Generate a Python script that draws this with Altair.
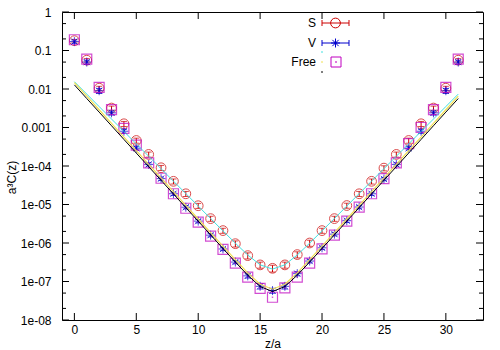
import altair as alt
import pandas as pd

# ---------------- data ----------------
z = list(range(32))

S_vals = [0.18, 0.056, 0.0105, 0.0032, 1.25e-3, 4.6e-4, 2.0e-4, 9.0e-5, 4.0e-5, 1.9e-5,
          9.3e-6, 4.3e-6, 2.1e-6, 9.6e-7, 4.7e-7, 2.7e-7, 2.2e-7, 2.7e-7, 5.0e-7, 1.0e-6,
          2.1e-6, 4.3e-6, 9.4e-6, 1.9e-5, 4.0e-5, 8.8e-5, 2.0e-4, 4.6e-4, 1.25e-3, 3.2e-3,
          0.0105, 0.056]
S_relerr = [0.08, 0.1, 0.12, 0.12, 0.15, 0.15, 0.15, 0.15, 0.15, 0.15,
            0.15, 0.15, 0.15, 0.18, 0.18, 0.18, 0.2, 0.18, 0.18, 0.18,
            0.15, 0.15, 0.15, 0.15, 0.15, 0.15, 0.15, 0.15, 0.15, 0.12,
            0.12, 0.1]

V_vals = [0.17, 0.05, 0.009, 0.0024, 8.0e-4, 2.9e-4, 1.1e-4, 4.7e-5, 1.9e-5, 8.5e-6,
          3.7e-6, 1.6e-6, 7.0e-7, 3.2e-7, 1.4e-7, 7.5e-8, 5.8e-8, 7.5e-8, 1.6e-7, 3.4e-7,
          7.5e-7, 1.7e-6, 3.8e-6, 8.6e-6, 1.9e-5, 4.6e-5, 1.1e-4, 2.9e-4, 8.0e-4, 2.4e-3,
          0.009, 0.05]
V_relerr = [0.1, 0.12, 0.15, 0.12, 0.12, 0.1, 0.1, 0.1, 0.1, 0.1,
            0.1, 0.1, 0.1, 0.1, 0.12, 0.15, 0.15, 0.15, 0.12, 0.1,
            0.1, 0.1, 0.1, 0.1, 0.1, 0.1, 0.1, 0.1, 0.12, 0.12,
            0.15, 0.12]

Free_vals = [0.19, 0.06, 0.011, 0.0029, 9.5e-4, 3.5e-4, 1.2e-4, 4.8e-5, 1.9e-5, 8.0e-6,
             3.5e-6, 1.5e-6, 6.8e-7, 3.0e-7, 1.3e-7, 6.6e-8, 3.9e-8, 6.8e-8, 1.3e-7, 3.0e-7,
             7.0e-7, 1.6e-6, 3.7e-6, 8.5e-6, 1.9e-5, 4.7e-5, 1.2e-4, 3.8e-4, 1.0e-3, 2.9e-3,
             0.011, 0.06]

fit_cyan = [0.0155, 7.37e-3, 3.5e-3, 1.66e-3, 7.9e-4, 3.76e-4, 1.79e-4, 8.5e-5, 4.04e-5, 1.92e-5,
            9.1e-6, 4.33e-6, 2.06e-6, 9.9e-7, 4.89e-7, 2.71e-7, 2.1e-7, 2.71e-7, 4.89e-7, 9.9e-7,
            2.06e-6, 4.33e-6, 9.1e-6, 1.92e-5, 4.04e-5, 8.5e-5, 1.79e-4, 3.76e-4, 7.9e-4, 1.66e-3,
            3.5e-3, 7.37e-3]
fit_yellow = [0.0147, 6.5e-3, 2.89e-3, 1.28e-3, 5.6e-4, 2.5e-4, 1.1e-4, 4.9e-5, 2.16e-5, 9.5e-6,
              4.2e-6, 1.87e-6, 8.3e-7, 3.7e-7, 1.68e-7, 8.5e-8, 6.3e-8, 8.5e-8, 1.68e-7, 3.7e-7,
              8.3e-7, 1.87e-6, 4.2e-6, 9.5e-6, 2.16e-5, 4.9e-5, 1.1e-4, 2.5e-4, 5.6e-4, 1.28e-3,
              2.89e-3, 6.5e-3]
fit_black = [0.0128, 5.66e-3, 2.51e-3, 1.11e-3, 4.9e-4, 2.17e-4, 9.6e-5, 4.25e-5, 1.88e-5, 8.3e-6,
             3.68e-6, 1.63e-6, 7.2e-7, 3.2e-7, 1.46e-7, 7.4e-8, 5.5e-8, 7.4e-8, 1.46e-7, 3.2e-7,
             7.2e-7, 1.63e-6, 3.68e-6, 8.3e-6, 1.88e-5, 4.25e-5, 9.6e-5, 2.17e-4, 4.9e-4, 1.11e-3,
             2.51e-3, 5.66e-3]

x_ticks = [0, 5, 10, 15, 20, 25, 30]
y_major = [1, 0.1, 0.01, 0.001, 1e-4, 1e-5, 1e-6, 1e-7, 1e-8]
y_minor = [0.5, 0.2, 0.05, 0.02, 5e-3, 2e-3, 5e-4, 2e-4, 5e-5, 2e-5, 5e-6, 2e-6,
           5e-7, 2e-7, 5e-8, 2e-8]

# ---------------- styling ----------------
W, H = 421, 308
FONT = "Liberation Sans"
RED = "#cc0000"
BLUE = "#0000cc"
MAG = "#c000c0"
CYAN = "#40e0e0"
YEL = "#f0e050"

xs = alt.Scale(domain=[-1, 33], nice=False, zero=False)
ys = alt.Scale(type="log", domain=[1e-8, 1], nice=False)

S_lo = [v * (1 - e) for v, e in zip(S_vals, S_relerr)]
S_hi = [v * (1 + e) for v, e in zip(S_vals, S_relerr)]
V_lo = [v * (1 - e) for v, e in zip(V_vals, V_relerr)]
V_hi = [v * (1 + e) for v, e in zip(V_vals, V_relerr)]

df = pd.DataFrame({"z": z, "S": S_vals, "S_lo": S_lo, "S_hi": S_hi,
                   "V": V_vals, "V_lo": V_lo, "V_hi": V_hi, "Free": Free_vals,
                   "cyan": fit_cyan, "yellow": fit_yellow, "black": fit_black})

X = alt.X("z:Q", scale=xs,
          axis=alt.Axis(values=x_ticks, ticks=False, domain=False, grid=False,
                        labelFont=FONT, labelFontSize=12, labelColor="black",
                        labelPadding=4, title="z/a", titleFont=FONT, titleFontSize=12,
                        titleFontWeight="normal", titleColor="black", titlePadding=3))

base = alt.Chart(df)

axes_layer = base.mark_point(opacity=0).encode(
    x=X,
    y=alt.Y("Free:Q", scale=ys,
            axis=alt.Axis(values=y_major, ticks=False, domain=False, grid=False,
                          labelFont=FONT, labelFontSize=12, labelColor="black",
                          labelPadding=11,
                          labelExpr="datum.value >= 0.001 ? toString(datum.value) : '1e-0' + toString(-round(log(datum.value)/LN10))",
                          title="a³C(z)", titleFont=FONT, titleFontSize=12,
                          titleFontWeight="normal", titleColor="black",
                          titleAngle=-90, titleX=-51, titleY=165,
                          titleAlign="center", titleBaseline="middle")),
)

def yq(field):
    return alt.Y(f"{field}:Q", scale=ys)

xq = alt.X("z:Q", scale=xs)

S_err = base.mark_rule(color=RED, strokeWidth=1).encode(x=xq, y=yq("S_lo"), y2="S_hi")
S_cap_lo = base.mark_tick(color=RED, thickness=1, size=6, orient="horizontal").encode(x=xq, y=yq("S_lo"))
S_cap_hi = base.mark_tick(color=RED, thickness=1, size=6, orient="horizontal").encode(x=xq, y=yq("S_hi"))
S_pts = base.mark_point(shape="circle", color=RED, size=95, strokeWidth=1, filled=False).encode(x=xq, y=yq("S"))

V_err = base.mark_rule(color=BLUE, strokeWidth=1).encode(x=xq, y=yq("V_lo"), y2="V_hi")
V_cap_lo = base.mark_tick(color=BLUE, thickness=1, size=6, orient="horizontal").encode(x=xq, y=yq("V_lo"))
V_cap_hi = base.mark_tick(color=BLUE, thickness=1, size=6, orient="horizontal").encode(x=xq, y=yq("V_hi"))
AST = "M-1,0L1,0M0,-1L0,1M-0.7,-0.7L0.7,0.7M-0.7,0.7L0.7,-0.7"
V_pts = base.mark_point(shape=AST, color=BLUE, size=80, strokeWidth=1, filled=False).encode(x=xq, y=yq("V"))
V_dot = base.mark_point(shape="square", color=BLUE, size=4, filled=True).encode(x=xq, y=yq("V"))

F_pts = base.mark_point(shape="square", color=MAG, size=100, strokeWidth=1.2, filled=False).encode(x=xq, y=yq("Free"))
F_dot = base.mark_point(shape="square", color=MAG, size=2, filled=True).encode(x=xq, y=yq("Free"))

L_cyan = base.mark_line(color=CYAN, strokeWidth=1).encode(x=xq, y=yq("cyan"))
L_yel = base.mark_line(color=YEL, strokeWidth=1.2).encode(x=xq, y=alt.Y("yellow:Q", scale=ys))
L_black = base.mark_line(color="black", strokeWidth=1).encode(x=xq, y=yq("black"))

# inward ticks (gnuplot style) on all four sides
ymaj_df = pd.DataFrame({"v": y_major})
ymin_df = pd.DataFrame({"v": y_minor})
xt_df = pd.DataFrame({"t": x_ticks})

def ytick(d, x0, x1):
    return alt.Chart(d).mark_rule(color="black", strokeWidth=1).encode(
        y=alt.Y("v:Q", scale=ys), x=alt.value(x0), x2=alt.value(x1))

def xtick(y0, y1):
    return alt.Chart(xt_df).mark_rule(color="black", strokeWidth=1).encode(
        x=alt.X("t:Q", scale=xs), y=alt.value(y0), y2=alt.value(y1))

ticks = [ytick(ymaj_df, 0, 7), ytick(ymaj_df, W - 7, W),
         ytick(ymin_df, 0, 4), ytick(ymin_df, W - 4, W),
         xtick(H, H - 7), xtick(0, 7)]

# manual key (gnuplot style)
one = pd.DataFrame({"a": [0]})

def txt(s, x, y):
    return alt.Chart(one).mark_text(align="right", baseline="middle", font=FONT, fontSize=12,
                                    color="black").encode(x=alt.value(x), y=alt.value(y), text=alt.value(s))

def hline(x0, x1, y, color):
    return alt.Chart(one).mark_rule(color=color, strokeWidth=1).encode(
        x=alt.value(x0), x2=alt.value(x1), y=alt.value(y))

def vline(x, y0, y1, color):
    return alt.Chart(one).mark_rule(color=color, strokeWidth=1).encode(
        x=alt.value(x), y=alt.value(y0), y2=alt.value(y1))

def sym(shape, x, y, color, size, filled=False):
    return alt.Chart(one).mark_point(shape=shape, color=color, size=size, filled=filled,
                                     strokeWidth=1, opacity=1).encode(x=alt.value(x), y=alt.value(y))

kx0, kx1, kxc = 260, 287, 273.5
ky_S, ky_V, ky_F = 11, 31, 50
key = [
    txt("S", 254, ky_S), hline(kx0, kx1, ky_S, RED), vline(kx0, ky_S - 3, ky_S + 3, RED),
    vline(kx1, ky_S - 3, ky_S + 3, RED), sym("circle", kxc, ky_S, RED, 95),
    txt("V", 254, ky_V), hline(kx0, kx1, ky_V, BLUE), vline(kx0, ky_V - 3, ky_V + 3, BLUE),
    vline(kx1, ky_V - 3, ky_V + 3, BLUE), sym(AST, kxc, ky_V, BLUE, 80),
    sym("square", kxc, ky_V, BLUE, 4, True),
    hline(259, 261, 40, CYAN),
    txt("Free", 254, ky_F), hline(259, 261, ky_F, YEL),
    sym("square", kxc + 0.5, ky_F, MAG, 100), sym("square", kxc + 0.5, ky_F, MAG, 2, True),
    hline(259, 261, 60, "black"),
]

chart = alt.layer(
    axes_layer, S_err, S_cap_lo, S_cap_hi, S_pts,
    V_err, V_cap_lo, V_cap_hi, V_pts, V_dot,
    F_pts, F_dot,
    L_cyan, L_yel, L_black,
    *ticks, *key,
).properties(
    width=W, height=H,
    autosize=alt.AutoSizeParams(type="none"),
    padding={"left": 62, "top": 12, "right": 17, "bottom": 30},
    background="white",
).configure_view(stroke="black", strokeWidth=1)

chart.save("out.html", embed_options={"renderer": "svg", "actions": False})
